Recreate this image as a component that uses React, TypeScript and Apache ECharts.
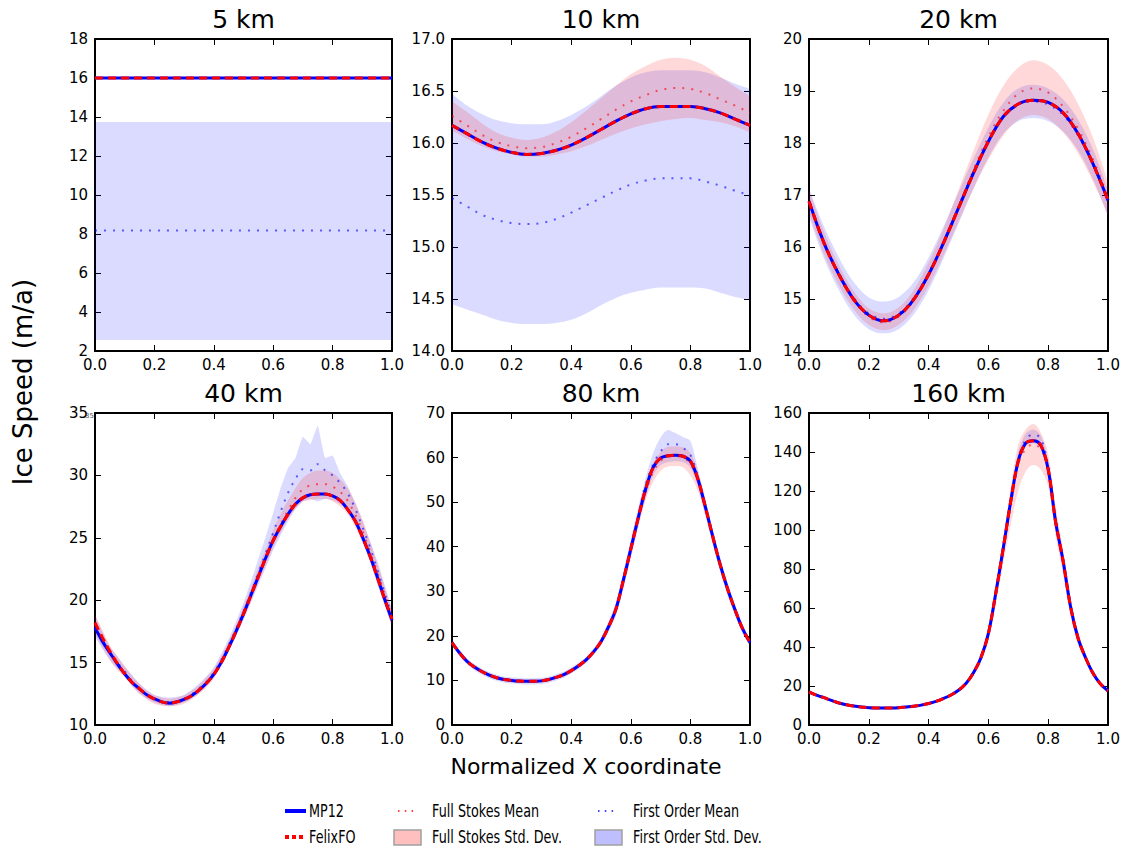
import React, { useEffect, useRef } from 'react';
import * as echarts from 'echarts';

// Normalized X coordinate (two sampling grids)
const X21 = [0, 0.05, 0.1, 0.15, 0.2, 0.25, 0.3, 0.35, 0.4, 0.45, 0.5, 0.55, 0.6, 0.65, 0.7, 0.75, 0.8, 0.85, 0.9, 0.95, 1];
const X41 = [0, 0.025, 0.05, 0.075, 0.1, 0.125, 0.15, 0.175, 0.2, 0.225, 0.25, 0.275, 0.3, 0.325, 0.35, 0.375, 0.4, 0.425, 0.45, 0.475, 0.5, 0.525, 0.55, 0.575, 0.6, 0.625, 0.65, 0.675, 0.7, 0.725, 0.75, 0.775, 0.8, 0.825, 0.85, 0.875, 0.9, 0.925, 0.95, 0.975, 1];

// ---- 5 km ----
const mp5 = [16.0, 16.0, 16.0, 16.0, 16.0, 16.0, 16.0, 16.0, 16.0, 16.0, 16.0, 16.0, 16.0, 16.0, 16.0, 16.0, 16.0, 16.0, 16.0, 16.0, 16.0];
const felix5 = [16.0, 16.0, 16.0, 16.0, 16.0, 16.0, 16.0, 16.0, 16.0, 16.0, 16.0, 16.0, 16.0, 16.0, 16.0, 16.0, 16.0, 16.0, 16.0, 16.0, 16.0];
const fsMean5 = [16.0, 16.0, 16.0, 16.0, 16.0, 16.0, 16.0, 16.0, 16.0, 16.0, 16.0, 16.0, 16.0, 16.0, 16.0, 16.0, 16.0, 16.0, 16.0, 16.0, 16.0];
const fsUp5 = [16.04, 16.04, 16.04, 16.04, 16.04, 16.04, 16.04, 16.04, 16.04, 16.04, 16.04, 16.04, 16.04, 16.04, 16.04, 16.04, 16.04, 16.04, 16.04, 16.04, 16.04];
const fsLo5 = [15.96, 15.96, 15.96, 15.96, 15.96, 15.96, 15.96, 15.96, 15.96, 15.96, 15.96, 15.96, 15.96, 15.96, 15.96, 15.96, 15.96, 15.96, 15.96, 15.96, 15.96];
const foMean5 = [8.18, 8.18, 8.18, 8.18, 8.18, 8.18, 8.18, 8.18, 8.18, 8.18, 8.18, 8.18, 8.18, 8.18, 8.18, 8.18, 8.18, 8.18, 8.18, 8.18, 8.18];
const foUp5 = [13.75, 13.75, 13.75, 13.75, 13.75, 13.75, 13.75, 13.75, 13.75, 13.75, 13.75, 13.75, 13.75, 13.75, 13.75, 13.75, 13.75, 13.75, 13.75, 13.75, 13.75];
const foLo5 = [2.56, 2.56, 2.56, 2.56, 2.56, 2.56, 2.56, 2.56, 2.56, 2.56, 2.56, 2.56, 2.56, 2.56, 2.56, 2.56, 2.56, 2.56, 2.56, 2.56, 2.56];

// ---- 10 km ----
const mp10 = [16.17, 16.09, 16.01, 15.95, 15.91, 15.89, 15.9, 15.93, 15.98, 16.05, 16.13, 16.21, 16.28, 16.33, 16.35, 16.35, 16.35, 16.33, 16.29, 16.23, 16.17];
const felix10 = [16.17, 16.09, 16.01, 15.95, 15.91, 15.89, 15.9, 15.93, 15.98, 16.05, 16.13, 16.21, 16.28, 16.33, 16.35, 16.35, 16.35, 16.33, 16.29, 16.23, 16.17];
const fsMean10 = [16.26, 16.17, 16.08, 16.01, 15.97, 15.95, 15.96, 16.0, 16.06, 16.14, 16.23, 16.32, 16.4, 16.46, 16.51, 16.53, 16.52, 16.48, 16.42, 16.36, 16.29];
const fsUp10 = [16.4, 16.3, 16.19, 16.1, 16.05, 16.03, 16.05, 16.11, 16.2, 16.31, 16.43, 16.55, 16.66, 16.74, 16.8, 16.82, 16.8, 16.74, 16.64, 16.54, 16.45];
const fsLo10 = [16.12, 16.04, 15.97, 15.92, 15.89, 15.87, 15.87, 15.89, 15.92, 15.97, 16.03, 16.09, 16.14, 16.18, 16.21, 16.23, 16.24, 16.22, 16.2, 16.16, 16.1];
const foMean10 = [15.47, 15.39, 15.31, 15.26, 15.23, 15.22, 15.23, 15.27, 15.33, 15.4, 15.47, 15.54, 15.6, 15.64, 15.66, 15.66, 15.66, 15.63, 15.59, 15.54, 15.5];
const foUp10 = [16.47, 16.36, 16.28, 16.22, 16.19, 16.18, 16.18, 16.21, 16.27, 16.35, 16.45, 16.55, 16.63, 16.68, 16.7, 16.7, 16.7, 16.68, 16.63, 16.57, 16.52];
const foLo10 = [14.45, 14.4, 14.35, 14.3, 14.27, 14.26, 14.26, 14.27, 14.3, 14.36, 14.44, 14.51, 14.56, 14.59, 14.61, 14.61, 14.61, 14.6, 14.56, 14.52, 14.49];

// ---- 20 km ----
const mp20 = [16.88, 16.08, 15.47, 14.99, 14.69, 14.58, 14.69, 14.99, 15.47, 16.08, 16.75, 17.42, 18.03, 18.51, 18.75, 18.82, 18.78, 18.58, 18.18, 17.6, 16.9];
const felix20 = [16.88, 16.08, 15.47, 14.99, 14.69, 14.58, 14.69, 14.99, 15.47, 16.08, 16.75, 17.42, 18.03, 18.51, 18.75, 18.82, 18.78, 18.58, 18.18, 17.6, 16.9];
const fsMean20 = [16.88, 16.08, 15.46, 14.97, 14.66, 14.55, 14.66, 14.97, 15.47, 16.09, 16.78, 17.48, 18.12, 18.62, 18.95, 19.05, 18.97, 18.7, 18.27, 17.68, 16.95];
const fsUp20 = [17.1, 16.3, 15.65, 15.15, 14.82, 14.72, 14.84, 15.17, 15.7, 16.35, 17.1, 17.85, 18.55, 19.1, 19.45, 19.59, 19.5, 19.22, 18.75, 18.1, 17.25];
const fsLo20 = [16.66, 15.86, 15.26, 14.8, 14.5, 14.4, 14.5, 14.79, 15.25, 15.84, 16.48, 17.12, 17.68, 18.14, 18.44, 18.54, 18.46, 18.2, 17.8, 17.25, 16.62];
const foMean20 = [16.88, 16.1, 15.5, 15.02, 14.72, 14.62, 14.72, 15.02, 15.5, 16.1, 16.77, 17.43, 18.03, 18.5, 18.76, 18.8, 18.74, 18.54, 18.15, 17.58, 16.88];
const foUp20 = [17.13, 16.4, 15.8, 15.32, 15.03, 14.95, 15.04, 15.32, 15.8, 16.4, 17.05, 17.7, 18.3, 18.78, 19.05, 19.12, 19.05, 18.84, 18.45, 17.88, 17.1];
const foLo20 = [16.58, 15.78, 15.17, 14.7, 14.42, 14.34, 14.42, 14.7, 15.17, 15.78, 16.45, 17.12, 17.72, 18.18, 18.42, 18.48, 18.42, 18.22, 17.85, 17.3, 16.6];

// ---- 40 km (41 samples) ----
const mp40 = [17.8, 16.7, 15.8, 14.9, 14.1, 13.4, 12.9, 12.4, 12.1, 11.85, 11.75, 11.85, 12.05, 12.35, 12.8, 13.35, 14.05, 15.0, 16.2, 17.5, 18.9, 20.4, 21.9, 23.4, 24.8, 25.9, 26.9, 27.7, 28.2, 28.45, 28.5, 28.5, 28.35, 28.0, 27.3, 26.4, 25.1, 23.6, 21.9, 20.1, 18.4];
const felix40 = [18.2, 17.0, 15.9, 14.95, 14.1, 13.4, 12.9, 12.4, 12.1, 11.85, 11.75, 11.85, 12.05, 12.35, 12.8, 13.35, 14.05, 15.0, 16.2, 17.5, 18.9, 20.4, 21.9, 23.4, 24.8, 25.9, 26.9, 27.7, 28.2, 28.45, 28.5, 28.5, 28.35, 28.0, 27.3, 26.4, 25.1, 23.6, 21.9, 20.1, 18.5];
const fsMean40 = [18.0, 16.85, 15.85, 14.95, 14.1, 13.4, 12.9, 12.4, 12.1, 11.85, 11.75, 11.85, 12.05, 12.35, 12.8, 13.35, 14.05, 15.0, 16.2, 17.55, 19.0, 20.5, 22.0, 23.5, 24.9, 26.1, 27.2, 28.2, 28.9, 29.2, 29.3, 29.3, 29.1, 28.7, 28.0, 26.9, 25.6, 24.0, 22.3, 20.5, 18.6];
const fsUp40 = [18.9, 17.6, 16.4, 15.5, 14.7, 13.9, 13.3, 12.75, 12.4, 12.2, 12.1, 12.2, 12.4, 12.75, 13.2, 13.8, 14.5, 15.5, 16.7, 18.0, 19.5, 21.0, 22.6, 24.1, 25.6, 26.9, 28.0, 29.0, 29.8, 30.2, 30.4, 30.4, 30.2, 29.7, 29.0, 27.9, 26.5, 24.8, 23.0, 21.1, 19.2];
const fsLo40 = [17.3, 16.2, 15.2, 14.4, 13.8, 13.1, 12.5, 12.05, 11.7, 11.55, 11.5, 11.55, 11.7, 12.05, 12.5, 13.0, 13.7, 14.7, 15.9, 17.2, 18.5, 19.9, 21.4, 22.8, 24.2, 25.4, 26.5, 27.3, 27.9, 28.0, 28.1, 28.1, 27.9, 27.5, 26.9, 25.9, 24.6, 23.1, 21.4, 19.7, 17.9];
const foMean40 = [17.9, 16.8, 15.8, 15.0, 14.3, 13.5, 12.9, 12.45, 12.1, 11.9, 11.85, 11.9, 12.1, 12.45, 12.9, 13.45, 14.2, 15.2, 16.4, 17.7, 19.1, 20.6, 22.2, 23.8, 25.4, 27.1, 28.6, 29.7, 30.5, 30.4, 30.9, 30.4, 30.0, 29.4, 28.6, 27.4, 25.9, 24.3, 22.5, 20.6, 18.7];
const foUp40 = [18.8, 17.5, 16.3, 15.5, 14.7, 14.0, 13.3, 12.8, 12.4, 12.25, 12.2, 12.25, 12.4, 12.8, 13.3, 13.9, 14.6, 15.7, 16.9, 18.3, 19.8, 21.5, 23.3, 25.1, 27.0, 29.0, 30.6, 31.4, 33.1, 32.5, 34.0, 31.4, 31.6, 30.2, 29.2, 27.9, 26.4, 24.8, 23.2, 21.3, 19.3];
const foLo40 = [17.1, 16.1, 15.2, 14.5, 13.9, 13.1, 12.5, 12.1, 11.8, 11.6, 11.5, 11.6, 11.8, 12.1, 12.5, 13.1, 13.8, 14.8, 15.9, 17.1, 18.4, 19.8, 21.2, 22.6, 24.0, 25.2, 26.3, 27.3, 27.9, 28.1, 27.9, 28.1, 28.0, 27.7, 27.2, 26.1, 24.8, 23.2, 21.4, 19.6, 17.9];

// ---- 80 km (41 samples) ----
const mp80 = [18.5, 16.2, 14.3, 13.0, 12.0, 11.2, 10.6, 10.2, 10.0, 9.85, 9.8, 9.8, 9.9, 10.2, 10.7, 11.3, 12.2, 13.3, 14.6, 16.4, 18.7, 22.0, 26.0, 32.5, 39.5, 46.5, 53.0, 57.8, 59.9, 60.4, 60.5, 60.3, 59.2, 55.2, 49.0, 42.3, 36.0, 30.5, 25.8, 21.6, 18.5];
const felix80 = [18.5, 16.2, 14.3, 13.0, 12.0, 11.2, 10.6, 10.2, 10.0, 9.85, 9.8, 9.8, 9.9, 10.2, 10.7, 11.3, 12.2, 13.3, 14.6, 16.4, 18.7, 22.0, 26.0, 32.5, 39.5, 46.5, 53.0, 57.8, 59.9, 60.4, 60.5, 60.3, 59.2, 55.2, 49.0, 42.3, 36.0, 30.5, 25.8, 21.6, 18.5];
const fsMean80 = [18.5, 16.2, 14.3, 13.0, 12.0, 11.2, 10.6, 10.2, 10.0, 9.85, 9.8, 9.8, 9.9, 10.2, 10.7, 11.3, 12.2, 13.3, 14.6, 16.4, 18.7, 22.0, 26.0, 32.5, 39.5, 46.3, 52.3, 56.8, 59.2, 60.2, 60.3, 60.0, 58.6, 54.8, 48.8, 42.3, 36.0, 30.5, 25.8, 21.6, 18.5];
const fsUp80 = [19.0, 16.7, 14.8, 13.5, 12.4, 11.6, 11.0, 10.6, 10.4, 10.25, 10.2, 10.2, 10.3, 10.6, 11.1, 11.7, 12.6, 13.8, 15.1, 17.0, 19.4, 22.8, 27.0, 33.7, 40.8, 47.8, 54.0, 58.8, 61.2, 62.4, 62.5, 62.3, 61.0, 57.0, 50.5, 43.6, 37.2, 31.5, 26.6, 22.3, 19.1];
const fsLo80 = [18.0, 15.7, 13.8, 12.5, 11.6, 10.8, 10.2, 9.8, 9.6, 9.45, 9.4, 9.4, 9.5, 9.8, 10.3, 10.9, 11.8, 12.8, 14.1, 15.8, 18.0, 21.0, 24.8, 30.8, 37.5, 44.5, 50.5, 54.5, 57.0, 58.0, 58.1, 57.8, 56.0, 52.5, 47.0, 40.5, 34.5, 29.3, 24.8, 20.8, 17.8];
const foMean80 = [18.5, 16.2, 14.3, 13.0, 12.0, 11.2, 10.6, 10.2, 10.0, 9.85, 9.8, 9.8, 9.9, 10.2, 10.7, 11.3, 12.2, 13.3, 14.6, 16.4, 18.7, 22.0, 26.0, 32.5, 39.7, 47.0, 54.0, 58.5, 61.3, 63.0, 63.0, 62.2, 60.6, 55.5, 49.2, 42.3, 36.0, 30.5, 25.8, 21.6, 18.5];
const foUp80 = [19.2, 16.9, 15.0, 13.7, 12.7, 11.9, 11.3, 10.9, 10.7, 10.55, 10.5, 10.5, 10.6, 10.9, 11.4, 12.0, 12.9, 14.0, 15.3, 17.2, 19.6, 23.2, 27.6, 34.3, 41.7, 48.8, 55.5, 61.0, 64.5, 66.2, 65.5, 64.6, 63.7, 57.5, 50.8, 44.0, 37.6, 32.0, 27.0, 22.6, 19.3];
const foLo80 = [17.8, 15.5, 13.6, 12.3, 11.3, 10.5, 9.9, 9.5, 9.3, 9.15, 9.1, 9.1, 9.2, 9.5, 10.0, 10.6, 11.5, 12.6, 13.9, 15.7, 18.0, 20.8, 24.5, 30.5, 37.5, 44.5, 51.0, 56.0, 58.3, 59.0, 59.2, 59.0, 57.8, 53.5, 47.2, 40.6, 34.4, 29.0, 24.5, 20.6, 17.7];

// ---- 160 km (41 samples) ----
const mp160 = [17.0, 15.3, 14.0, 12.6, 11.3, 10.4, 9.7, 9.2, 8.9, 8.75, 8.7, 8.75, 8.9, 9.2, 9.6, 10.2, 11.0, 12.1, 13.6, 15.4, 17.8, 21.3, 26.8, 34.5, 47.0, 68.0, 91.0, 115.0, 135.5, 144.5, 145.8, 143.5, 131.0, 104.0, 84.0, 60.5, 44.5, 34.5, 26.5, 21.0, 17.5];
const felix160 = [17.0, 15.3, 14.0, 12.6, 11.3, 10.4, 9.7, 9.2, 8.9, 8.75, 8.7, 8.75, 8.9, 9.2, 9.6, 10.2, 11.0, 12.1, 13.6, 15.4, 17.8, 21.3, 26.8, 34.5, 47.0, 68.0, 91.0, 115.0, 135.5, 144.5, 145.8, 143.5, 131.0, 104.0, 84.0, 60.5, 44.5, 34.5, 26.5, 21.0, 17.5];
const fsMean160 = [17.0, 15.3, 14.0, 12.6, 11.3, 10.4, 9.7, 9.2, 8.9, 8.75, 8.7, 8.75, 8.9, 9.2, 9.6, 10.2, 11.0, 12.1, 13.6, 15.4, 17.8, 21.3, 26.8, 34.5, 46.5, 67.0, 89.5, 113.0, 134.0, 141.5, 144.0, 141.5, 132.0, 105.5, 84.5, 60.5, 44.5, 34.5, 26.5, 21.0, 17.5];
const fsUp160 = [17.8, 16.0, 14.7, 13.3, 12.0, 11.1, 10.4, 9.9, 9.6, 9.45, 9.4, 9.45, 9.6, 9.9, 10.3, 10.9, 11.7, 12.8, 14.3, 16.2, 18.7, 22.4, 28.3, 36.7, 50.0, 72.0, 96.0, 122.0, 144.0, 151.5, 154.3, 150.0, 139.0, 112.0, 90.0, 65.5, 48.0, 36.5, 28.0, 22.0, 18.3];
const fsLo160 = [16.2, 14.6, 13.3, 11.9, 10.6, 9.7, 9.0, 8.5, 8.2, 8.05, 8.0, 8.05, 8.2, 8.5, 8.9, 9.5, 10.3, 11.4, 12.9, 14.6, 16.9, 20.2, 25.3, 32.5, 43.0, 62.0, 83.0, 103.0, 120.0, 130.0, 133.3, 131.0, 122.0, 97.0, 77.0, 55.5, 41.0, 32.5, 25.0, 20.0, 16.7];
const foMean160 = [17.0, 15.3, 14.0, 12.6, 11.3, 10.4, 9.7, 9.2, 8.9, 8.75, 8.7, 8.75, 8.9, 9.2, 9.6, 10.2, 11.0, 12.1, 13.6, 15.4, 17.8, 21.3, 26.8, 34.5, 47.0, 68.0, 91.5, 115.5, 136.5, 146.5, 149.0, 147.0, 132.5, 104.5, 84.0, 60.5, 44.5, 34.5, 26.5, 21.0, 17.5];
const foUp160 = [17.5, 15.8, 14.5, 13.1, 11.8, 10.9, 10.2, 9.7, 9.4, 9.25, 9.2, 9.25, 9.4, 9.7, 10.1, 10.7, 11.5, 12.6, 14.1, 15.9, 18.4, 22.0, 27.8, 35.8, 48.5, 70.0, 93.0, 118.0, 140.0, 149.5, 151.5, 148.5, 135.5, 107.0, 86.5, 62.5, 46.0, 35.5, 27.3, 21.6, 18.0];
const foLo160 = [16.5, 14.8, 13.5, 12.1, 10.8, 9.9, 9.2, 8.7, 8.4, 8.25, 8.2, 8.25, 8.4, 8.7, 9.1, 9.7, 10.5, 11.6, 13.1, 14.9, 17.2, 20.6, 25.8, 33.3, 45.5, 66.0, 89.0, 112.0, 132.0, 143.0, 144.5, 142.0, 128.0, 101.0, 81.5, 58.5, 43.0, 33.5, 25.7, 20.4, 17.0];

const titles = ['5 km', '10 km', '20 km', '40 km', '80 km', '160 km'];
const yMins = [2, 14, 14, 10, 0, 0];
const yMaxs = [18, 17, 20, 35, 70, 160];
const yIntervals = [2, 0.5, 1, 5, 10, 20];
const yDecimals = [0, 1, 0, 0, 0, 0];

const legendNames = ['MP12', 'FelixFO', 'Full Stokes Mean', 'Full Stokes Std. Dev.', 'First Order Mean', 'First Order Std. Dev.'];

const panelData = [
  { x: X21, mp: mp5, felix: felix5, fsMean: fsMean5, fsUp: fsUp5, fsLo: fsLo5, foMean: foMean5, foUp: foUp5, foLo: foLo5 },
  { x: X21, mp: mp10, felix: felix10, fsMean: fsMean10, fsUp: fsUp10, fsLo: fsLo10, foMean: foMean10, foUp: foUp10, foLo: foLo10 },
  { x: X21, mp: mp20, felix: felix20, fsMean: fsMean20, fsUp: fsUp20, fsLo: fsLo20, foMean: foMean20, foUp: foUp20, foLo: foLo20 },
  { x: X41, mp: mp40, felix: felix40, fsMean: fsMean40, fsUp: fsUp40, fsLo: fsLo40, foMean: foMean40, foUp: foUp40, foLo: foLo40 },
  { x: X41, mp: mp80, felix: felix80, fsMean: fsMean80, fsUp: fsUp80, fsLo: fsLo80, foMean: foMean80, foUp: foUp80, foLo: foLo80 },
  { x: X41, mp: mp160, felix: felix160, fsMean: fsMean160, fsUp: fsUp160, fsLo: fsLo160, foMean: foMean160, foUp: foUp160, foLo: foLo160 },
];
// the 40 km First Order band is noisy: drawn with little smoothing
const bandSmooth = [0.35, 0.35, 0.35, 0.08, 0.3, 0.3];

// layout (pixels)
const colLeft = [95, 452, 809];
const colWidth = [297, 298, 299];
const rowTop = [39, 413];
const plotH = 312;

const FONT = 'DejaVu Sans';
const BLUE = '#0000ff';
const RED = '#ff0000';

function buildOption() {
  const grid: any[] = [];
  const xAxis: any[] = [];
  const yAxis: any[] = [];
  const series: any[] = [];
  const graphic: any[] = [];

  const diff = (up: number[], lo: number[]) => up.map((u, k) => Math.round((u - lo[k]) * 10000) / 10000);

  const spine = { show: true, onZero: false, lineStyle: { color: '#000', width: 2 } };

  for (let i = 0; i < 6; i++) {
    const r = Math.floor(i / 3);
    const c = i % 3;
    const left = colLeft[c];
    const top = rowTop[r];
    const w = colWidth[c];
    grid.push({ left, top, width: w, height: plotH, containLabel: false, show: false });

    const p = panelData[i];
    const cats = p.x.map((v) => String(v));
    // one labelled tick every 0.2
    const every = Math.round(0.2 / (p.x[1] - p.x[0])) - 1;
    const xTick = { show: true, inside: true, length: 6, interval: every, lineStyle: { color: '#000', width: 1 } };
    const yTick = { show: true, inside: true, length: 6, lineStyle: { color: '#000', width: 1 } };

    const dec = yDecimals[i];
    xAxis.push({
      type: 'category', gridIndex: i, position: 'bottom', data: cats, boundaryGap: false,
      axisLine: spine, axisTick: xTick, splitLine: { show: false },
      axisLabel: { show: true, interval: every, showMinLabel: true, showMaxLabel: true, margin: 6, color: '#000', fontSize: 15, fontFamily: FONT, formatter: (v: string) => Number(v).toFixed(1) },
    });
    xAxis.push({
      type: 'category', gridIndex: i, position: 'top', data: cats, boundaryGap: false,
      axisLine: spine, axisTick: xTick, splitLine: { show: false }, axisLabel: { show: false },
    });
    yAxis.push({
      type: 'value', gridIndex: i, position: 'left', min: yMins[i], max: yMaxs[i], interval: yIntervals[i],
      axisLine: spine, axisTick: yTick, splitLine: { show: false },
      axisLabel: { show: true, showMinLabel: true, showMaxLabel: true, margin: 7, color: '#000', fontSize: 15, fontFamily: FONT, formatter: (v: number) => v.toFixed(dec) },
    });
    yAxis.push({
      type: 'value', gridIndex: i, position: 'right', min: yMins[i], max: yMaxs[i], interval: yIntervals[i],
      axisLine: spine, axisTick: yTick, splitLine: { show: false }, axisLabel: { show: false },
    });

    const xi = 2 * i;
    const yi = 2 * i;
    const base = { type: 'line', xAxisIndex: xi, yAxisIndex: yi, symbol: 'none', smooth: 0.35, silent: true, animation: false };
    const hidden = { opacity: 0, width: 0 };

    // First order std band
    series.push({ ...base, smooth: bandSmooth[i], name: 'foLo' + i, data: p.foLo, stack: 'fo' + i, lineStyle: hidden, z: 1 });
    series.push({ ...base, smooth: bandSmooth[i], name: legendNames[5], data: diff(p.foUp, p.foLo), stack: 'fo' + i, lineStyle: hidden, areaStyle: { color: 'rgba(0,0,255,0.14)', opacity: 1 }, z: 1 });
    // Full Stokes std band
    series.push({ ...base, name: 'fsLo' + i, data: p.fsLo, stack: 'fs' + i, lineStyle: hidden, z: 1 });
    series.push({ ...base, name: legendNames[3], data: diff(p.fsUp, p.fsLo), stack: 'fs' + i, lineStyle: hidden, areaStyle: { color: 'rgba(255,0,0,0.15)', opacity: 1 }, z: 1 });
    // Means
    series.push({ ...base, name: legendNames[4], data: p.foMean, lineStyle: { color: 'rgba(0,0,255,0.6)', width: 2, type: [2, 7] }, z: 2 });
    series.push({ ...base, name: legendNames[2], data: p.fsMean, lineStyle: { color: 'rgba(255,0,0,0.6)', width: 2, type: [2, 7] }, z: 2 });
    // MP12 and FelixFO
    series.push({ ...base, name: legendNames[0], data: p.mp, lineStyle: { color: BLUE, width: 3 }, z: 3 });
    series.push({ ...base, name: legendNames[1], data: p.felix, lineStyle: { color: RED, width: 3, type: [8, 5] }, z: 4 });

    graphic.push({
      type: 'text', x: left + w / 2, y: top - 20,
      style: { text: titles[i], fontSize: 25, fontFamily: FONT, fill: '#000', align: 'center', verticalAlign: 'middle', textAlign: 'center', textVerticalAlign: 'middle' },
    });
  }

  // axis titles
  graphic.push({
    type: 'text', x: 23, y: 382, rotation: Math.PI / 2,
    style: { text: 'Ice Speed (m/a)', fontSize: 26, fontFamily: FONT, fill: '#000', align: 'center', verticalAlign: 'middle', textAlign: 'center', textVerticalAlign: 'middle' },
  });
  graphic.push({
    type: 'text', x: 586, y: 766,
    style: { text: 'Normalized X coordinate', fontSize: 22, fontFamily: FONT, fill: '#000', align: 'center', verticalAlign: 'middle', textAlign: 'center', textVerticalAlign: 'middle' },
  });
  // small overlapping label artifact near the 40 km axis
  graphic.push({
    type: 'text', x: 85, y: 416,
    style: { text: '35', fontSize: 7, fontFamily: FONT, fill: '#555', align: 'left', verticalAlign: 'middle', textAlign: 'left', textVerticalAlign: 'middle' },
  });

  // legend
  const legText = (t: string, x: number, y: number) => ({
    type: 'text', x, y, scaleX: 0.71,
    style: { text: t, fontSize: 18, fontFamily: FONT, fill: '#000', align: 'left', verticalAlign: 'middle', textAlign: 'left', textVerticalAlign: 'middle' },
  });
  const r1 = 811;
  const r2 = 837;
  graphic.push({ type: 'line', shape: { x1: 285, y1: r1, x2: 306, y2: r1 }, style: { stroke: BLUE, lineWidth: 4 } });
  graphic.push(legText(legendNames[0], 309, r1));
  graphic.push({ type: 'line', shape: { x1: 285, y1: r2, x2: 306, y2: r2 }, style: { stroke: RED, lineWidth: 4, lineDash: [4, 3] } });
  graphic.push(legText(legendNames[1], 309, r2));
  graphic.push({ type: 'line', shape: { x1: 398, y1: r1, x2: 414, y2: r1 }, style: { stroke: RED, lineWidth: 1.5, lineDash: [1.5, 5.3] } });
  graphic.push(legText(legendNames[2], 432, r1));
  graphic.push({ type: 'rect', shape: { x: 394, y: r2 - 7, width: 27, height: 15 }, style: { fill: 'rgba(255,0,0,0.25)', stroke: '#a0a0a0', lineWidth: 1.5 } });
  graphic.push(legText(legendNames[3], 432, r2));
  graphic.push({ type: 'line', shape: { x1: 598, y1: r1, x2: 614, y2: r1 }, style: { stroke: BLUE, lineWidth: 1.5, lineDash: [1.5, 5.3] } });
  graphic.push(legText(legendNames[4], 633, r1));
  graphic.push({ type: 'rect', shape: { x: 595, y: r2 - 7, width: 27, height: 15 }, style: { fill: 'rgba(0,0,255,0.25)', stroke: '#a0a0a0', lineWidth: 1.5 } });
  graphic.push(legText(legendNames[5], 633, r2));

  return {
    animation: false,
    backgroundColor: '#ffffff',
    textStyle: { fontFamily: FONT },
    grid, xAxis, yAxis, series, graphic,
  };
}

export default function App() {
  const ref = useRef<HTMLDivElement>(null);
  useEffect(() => {
    if (!ref.current) return;
    const chart = echarts.init(ref.current, undefined, { renderer: 'svg' });
    chart.setOption(buildOption() as any);
    return () => chart.dispose();
  }, []);
  return <div ref={ref} style={{ position: 'absolute', left: 0, top: 0, width: 1125, height: 853 }} />;
}
